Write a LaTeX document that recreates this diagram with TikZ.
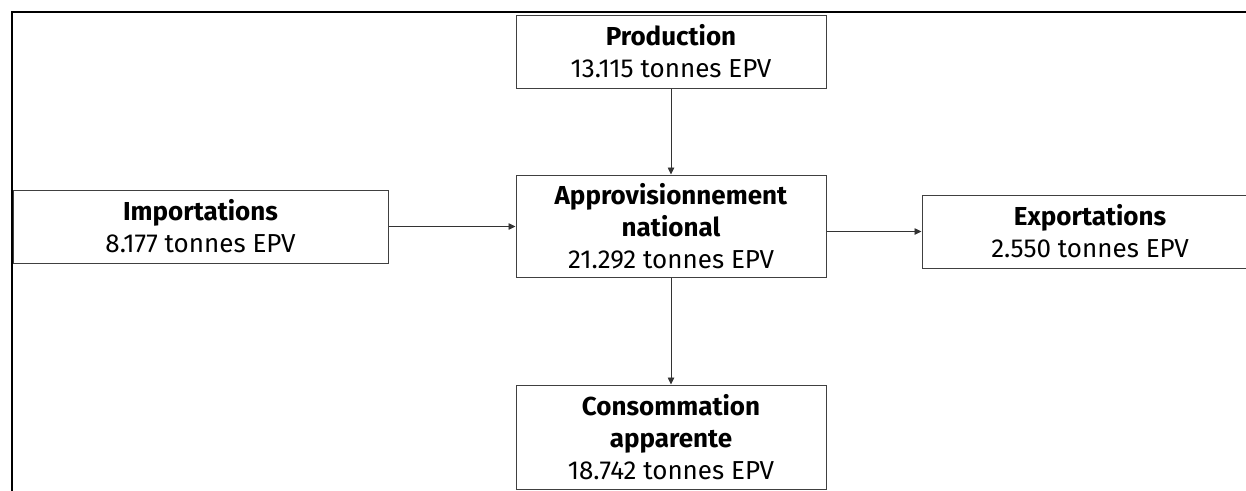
\documentclass[tikz,border=0pt]{standalone}
\usepackage{fontspec}
\setmainfont{Fira Sans}
\usetikzlibrary{arrows.meta}
\tikzset{
  box/.style={draw=black!75, line width=1pt, fill=white, align=center, inner sep=0pt,
    font=\fontsize{26}{32}\selectfont},
  conn/.style={draw=black!80, line width=0.8pt, -{Triangle[length=7pt,width=6.5pt]}},
  frame/.style={draw=black, line width=2pt}
}
\begin{document}
\begin{tikzpicture}[x=1pt,y=-1pt]
\clip (0,0) rectangle (1246,490);
\fill[white] (0,0) rectangle (1246,490);
\draw[frame] (1250,12) -- (12,12) -- (12,495);
\node[box, minimum width=310pt, minimum height=73pt] (prod) at (671,51.5) {\textbf{Production}\\13.115 tonnes EPV};
\node[box, minimum width=310pt, minimum height=102pt] (appro) at (671,226) {\textbf{Approvisionnement}\\\textbf{national}\\21.292 tonnes EPV};
\node[box, minimum width=310pt, minimum height=104pt] (cons) at (671,437) {\textbf{Consommation}\\\textbf{apparente}\\18.742 tonnes EPV};
\node[box, minimum width=375pt, minimum height=73pt] (imp) at (200.5,226.5) {\textbf{Importations}\\8.177 tonnes EPV};
\node[box, minimum width=336pt, minimum height=73pt] (exp) at (1090,231.5) {\textbf{Exportations}\\2.550 tonnes EPV};
\draw[conn] (prod) -- (appro);
\draw[conn] (appro) -- (cons);
\draw[conn] (imp.east) -- (imp.east -| appro.west);
\draw[conn] (exp.west -| appro.east) -- (exp.west);
\end{tikzpicture}
\end{document}
